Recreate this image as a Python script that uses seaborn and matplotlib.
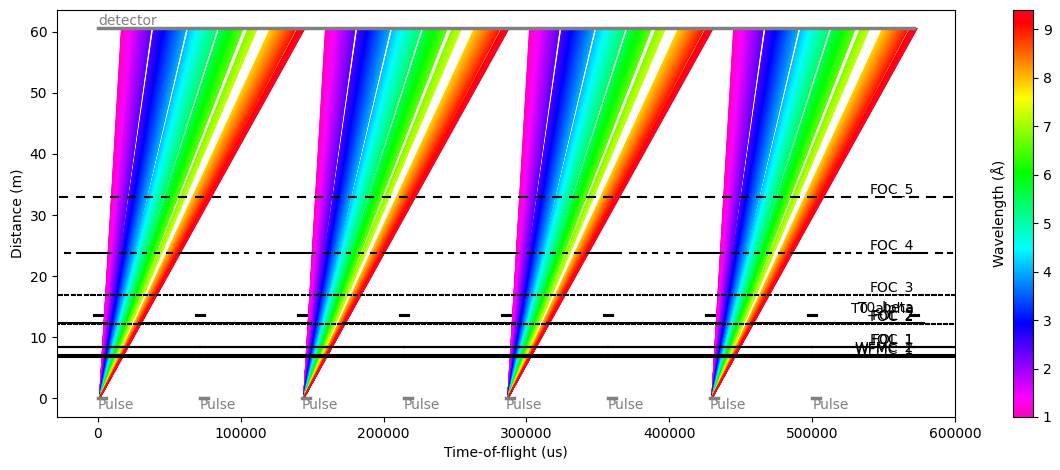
import numpy as np
import pandas as pd
import matplotlib
matplotlib.use("Agg")
import matplotlib.pyplot as plt
from matplotlib.colors import Normalize
from matplotlib.cm import ScalarMappable
import seaborn as sns

# ---------------- data ----------------
PULSE_PERIOD = 71428.57            # us (14 Hz source)
PULSE_TIMES = [0.0, 71428.57, 142857.14, 214285.71, 285714.29, 357142.86, 428571.43, 500000.0]
PULSE_LENGTH = 5500.0
FAN_PULSES = [0.0, 142857.14, 285714.29, 428571.43]
BIRTH_OFFSET = 1200.0
WAVELENGTH_RANGE = [1.0, 9.4]
WAVELENGTH_STEP = 0.01
BLOCKED_BANDS = [(2.355, 2.475), (3.955, 4.075), (5.375, 5.495), (6.57, 6.80), (7.22, 7.82), (9.00, 9.08)]
DETECTOR_DISTANCE = 60.5
TIME_LIMIT = 571428.57

CHOPPER_NAMES = ["WFMC_1", "WFMC_2", "FOL_1", "FOC_1", "FOC_2", "FOL_2",
                 "T0_alpha", "T0_beta", "FOC_3", "FOC_4", "FOC_5"]
CHOPPER_DISTANCES = [6.85, 7.15, 8.4, 8.4, 12.15, 12.3, 13.55, 13.65, 17.0, 23.8, 33.0]
CHOPPER_PERIODS = [71428.57, 71428.57, 71428.57, 71428.57, 4200.0, 142857.14,
                   71428.57, 71428.57, 4600.0, 71428.57, 11904.76]
CHOPPER_CLOSED = [
    [(0.0, 71428.57)],
    [(0.0, 71428.57)],
    [(0.0, 71428.57)],
    [(0.0, 71428.57)],
    [(0.0, 2100.0)],
    [(-113900.0, 6650.0)],
    [(-2800.0, 3500.0)],
    [(-2800.0, 3500.0)],
    [(0.0, 2300.0)],
    [(-14700.0, 8950.0), (15300.0, 19500.0), (23500.0, 26500.0), (31500.0, 34000.0),
     (40000.0, 42800.0), (48500.0, 52000.0)],
    [(-26450.0, -21340.0)],
]

X_LIMITS = (-28571.4, 600000.0)
Y_LIMITS = (-3.025, 63.525)

# ---------------- build rays ----------------
lam = np.round(np.arange(WAVELENGTH_RANGE[0], WAVELENGTH_RANGE[1] + 1e-9, WAVELENGTH_STEP), 4)
keep = np.ones_like(lam, dtype=bool)
for lo, hi in BLOCKED_BANDS:
    keep &= ~((lam > lo) & (lam < hi))
lam = lam[keep]

rows = []
ray = 0
for tp in FAN_PULSES:
    t0 = tp + BIRTH_OFFSET
    t1 = t0 + 252.78 * DETECTOR_DISTANCE * lam
    for l, te in zip(lam, t1):
        rows.append((ray, l, t0, 0.0))
        rows.append((ray, l, te, DETECTOR_DISTANCE))
        ray += 1
rays = pd.DataFrame(rows, columns=["ray", "wavelength", "time", "distance"])

# ---------------- figure ----------------
fig = plt.figure(figsize=(10.6, 4.7), dpi=100)
ax = fig.add_axes([0.05377, 0.11277, 0.84717, 0.86596])
cax = fig.add_axes([0.95566, 0.11277, 0.01887, 0.86596])

sns.lineplot(data=rays, x="time", y="distance", hue="wavelength", units="ray",
             estimator=None, sort=False, palette="gist_rainbow_r",
             hue_norm=tuple(WAVELENGTH_RANGE), linewidth=0.7, legend=False, ax=ax)

# choppers
for name, dist, per, closed in zip(CHOPPER_NAMES, CHOPPER_DISTANCES, CHOPPER_PERIODS, CHOPPER_CLOSED):
    xs = []
    kmin = int(np.floor((X_LIMITS[0] - 200000) / per))
    kmax = int(np.ceil((X_LIMITS[1] + 200000) / per))
    for k in range(kmin, kmax + 1):
        for s, e in closed:
            a, b = k * per + s, k * per + e
            a, b = max(a, X_LIMITS[0]), min(b, X_LIMITS[1])
            if b > a:
                xs.append((a, b))
    xs.sort()
    x, y = [], []
    for a, b in xs:
        x += [a, b, np.nan]
        y += [dist, dist, np.nan]
    ax.plot(x, y, color="k", lw=1.5, zorder=3)
    ax.text(TIME_LIMIT, dist, name, ha="right", va="bottom", fontsize=10, zorder=4)

# pulses
for tp in PULSE_TIMES:
    ax.plot([tp, tp + PULSE_LENGTH], [0, 0], color="gray", lw=2.5, zorder=4)
    ax.text(tp, 0, "Pulse", ha="left", va="top", color="gray", fontsize=10)

# detector
ax.plot([0, TIME_LIMIT], [DETECTOR_DISTANCE, DETECTOR_DISTANCE], color="gray", lw=2.5, zorder=4)
ax.text(0, DETECTOR_DISTANCE, "detector", ha="left", va="bottom", color="gray", fontsize=10)

ax.set_xlim(*X_LIMITS)
ax.set_ylim(*Y_LIMITS)
ax.set_xlabel("Time-of-flight (us)")
ax.set_ylabel("Distance (m)")

sm = ScalarMappable(norm=Normalize(*WAVELENGTH_RANGE), cmap="gist_rainbow_r")
cb = fig.colorbar(sm, cax=cax)
cb.set_label("Wavelength (Å)")
cb.ax.yaxis.set_label_position("left")

fig.savefig("out.png", dpi=100)
